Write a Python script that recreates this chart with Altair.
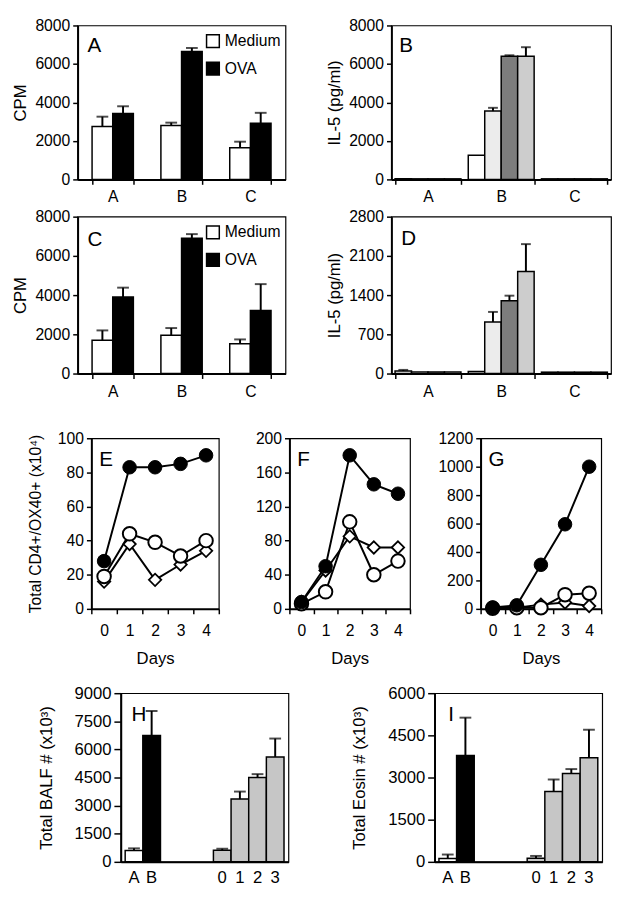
import altair as alt
import pandas as pd

FONT = "Liberation Sans"

# ---------------- Panels A and C : proliferation (CPM) ----------------
groups = ["A", "B", "C"]
stims = ["Medium", "OVA"]
stim_fills = ["white", "black"]
cpm_ticks = [0, 2000, 4000, 6000, 8000]

a_medium = [2750, 2800, 1650]
a_medium_top = [3260, 2950, 1960]
a_ova = [3420, 6650, 2920]
a_ova_top = [3800, 6830, 3460]

c_medium = [1700, 1950, 1520]
c_medium_top = [2200, 2320, 1740]
c_ova = [3900, 6900, 3220]
c_ova_top = [4380, 7110, 4560]

# ---------------- Panels B and D : IL-5 ----------------
il5_series = ["s1", "s2", "s3", "s4"]
il5_fills = ["white", "#ececec", "#7d7d7d", "#cdcdcd"]
b_ticks = [0, 2000, 4000, 6000, 8000]
b_group_A = [30, 30, 30, 30]
b_group_B = [1250, 3550, 6400, 6400]
b_group_C = [30, 30, 30, 30]
b_group_B_top = [1250, 3720, 6450, 6870]

d_ticks = [0, 700, 1400, 2100, 2800]
d_group_A = [45, 30, 30, 30]
d_group_A_top = [65, 30, 30, 30]
d_group_B = [35, 920, 1300, 1820]
d_group_B_top = [35, 1100, 1390, 2310]
d_group_C = [25, 25, 25, 25]

# ---------------- Panels E, F, G : CD4+/OX40+ time course ----------------
days = ["0", "1", "2", "3", "4"]
e_filled = [28, 83, 83, 85, 90]
e_open = [19, 44, 39, 31, 40]
e_diamond = [16, 38, 17, 26, 34]
e_ticks = [0, 20, 40, 60, 80, 100]

f_filled = [8, 50, 180, 146, 135]
f_open = [6, 20, 102, 40, 56]
f_diamond = [8, 45, 85, 72, 72]
f_ticks = [0, 40, 80, 120, 160, 200]

g_filled = [10, 25, 310, 595, 1000]
g_open = [5, 8, 8, 100, 110]
g_diamond = [5, 8, 30, 45, 20]
g_ticks = [0, 200, 400, 600, 800, 1000, 1200]

# ---------------- Panels H and I : BALF ----------------
hi_cats = ["A", "B", "0", "1", "2", "3"]
hi_domain = ["A", "B", " ", "  ", "   ", "0", "1", "2", "3"]
hi_fills = ["white", "black", "#c6c6c6", "#c6c6c6", "#c6c6c6", "#c6c6c6"]
h_vals = [600, 6750, 620, 3350, 4500, 5600]
h_top = [720, 8050, 700, 3750, 4680, 6580]
h_ticks = [0, 1500, 3000, 4500, 6000, 7500, 9000]
i_vals = [120, 3780, 130, 2500, 3140, 3700]
i_top = [260, 5130, 210, 2930, 3300, 4700]
i_ticks = [0, 1500, 3000, 4500, 6000]

spacer_df = pd.DataFrame({"s": [0]})


def spacer(w, h):
    return (
        alt.Chart(spacer_df)
        .mark_rect(opacity=0)
        .encode(x=alt.value(0), x2=alt.value(w), y=alt.value(0), y2=alt.value(h))
        .properties(width=w, height=h, view=alt.ViewBackground(stroke="transparent"))
    )


def letter(txt, dx, dy):
    return (
        alt.Chart(pd.DataFrame({"t": [txt]}))
        .mark_text(align="left", baseline="middle", fontSize=21, font=FONT, color="black")
        .encode(text="t:N", x=alt.value(dx), y=alt.value(dy))
    )


def y_axis(values, title, label_size, title_size, extent, title_pad, tick=5):
    kw = dict(values=values, format="d", title=title, labelFontSize=label_size,
              titleFontSize=title_size, tickSize=tick, labelPadding=3, grid=False)
    if title is not None:
        kw.update(minExtent=extent, maxExtent=extent, titlePadding=title_pad)
    return alt.Axis(**kw)


x_axis_groups = alt.Axis(
    title=None, tickBand="extent", labelAngle=0, labelFontSize=16,
    tickSize=5, labelPadding=5,
)


def grouped_panel(df, sub_field, sub_domain, fill_range, y_max, y_ticks, y_title,
                  letter_txt, lx, ly, width, height, pad_inner, pad_outer, cap,
                  legend=None):
    n = len(sub_domain)
    step = width / (len(groups) - pad_inner + 2 * pad_outer)
    bw = step * (1 - pad_inner) / n
    x = alt.X("group:N", scale=alt.Scale(domain=groups, paddingInner=pad_inner,
                                         paddingOuter=pad_outer), axis=x_axis_groups)
    ax = y_axis(y_ticks, y_title, 16, 17, 44, 5)
    sc = alt.Scale(domain=[0, y_max], nice=False)
    fill = alt.Fill(f"{sub_field}:N", scale=alt.Scale(domain=sub_domain, range=fill_range),
                    legend=legend)
    layers = []
    for k, s in enumerate(sub_domain):
        off = (k - (n - 1) / 2) * bw
        sub = alt.Chart(df).transform_filter(f"datum.{sub_field} == '{s}'")
        layers.append(sub.mark_bar(stroke="black", strokeWidth=1.5, width=bw, xOffset=off)
                      .encode(x=x, y=alt.Y("val:Q", scale=sc, axis=ax), fill=fill))
    for k, s in enumerate(sub_domain):
        off = (k - (n - 1) / 2) * bw
        sub = alt.Chart(df).transform_filter(
            f"datum.{sub_field} == '{s}' && datum.top > datum.val")
        layers.append(sub.mark_rule(color="black", strokeWidth=2, xOffset=off)
                      .encode(x=x, y=alt.Y("val:Q", scale=sc, axis=ax), y2="top:Q"))
        layers.append(sub.mark_tick(color="black", thickness=2, size=cap, xOffset=off)
                      .encode(x=x, y=alt.Y("top:Q", scale=sc, axis=ax)))
    layers.append(letter(letter_txt, lx, ly))
    return alt.layer(*layers).properties(width=width, height=height)


def cpm_frame(med, med_top, ova, ova_top):
    rows = []
    for g, m, mt, o, ot in zip(groups, med, med_top, ova, ova_top):
        rows.append({"group": g, "stim": "Medium", "val": m, "top": mt})
        rows.append({"group": g, "stim": "OVA", "val": o, "top": ot})
    return pd.DataFrame(rows)


def il5_frame(vals_by_group, tops_by_group):
    rows = []
    for g, vals, tops in zip(groups, vals_by_group, tops_by_group):
        for s, v, t in zip(il5_series, vals, tops):
            rows.append({"group": g, "series": s, "val": v, "top": t})
    return pd.DataFrame(rows)


legend_spec = alt.Legend(
    title=None, orient="none", legendX=130, legendY=8, symbolType="square",
    symbolSize=169, symbolStrokeColor="black", symbolStrokeWidth=1.5,
    labelFontSize=16, labelFont=FONT, labelColor="black", rowPadding=8,
    padding=0, labelOffset=4,
)

H1 = 157
H2 = 160
W_AC = 212
W_BD = 224
panel_A = grouped_panel(cpm_frame(a_medium, a_medium_top, a_ova, a_ova_top), "stim", stims,
                        stim_fills, 8000, cpm_ticks, "CPM", "A", 10, 21, W_AC, H1,
                        0.4, 0.21, 12, legend_spec)
panel_C = grouped_panel(cpm_frame(c_medium, c_medium_top, c_ova, c_ova_top), "stim", stims,
                        stim_fills, 8000, cpm_ticks, "CPM", "C", 10, 24, W_AC, H2,
                        0.4, 0.21, 12, legend_spec)
panel_B = grouped_panel(il5_frame([b_group_A, b_group_B, b_group_C],
                                  [b_group_A, b_group_B_top, b_group_C]),
                        "series", il5_series, il5_fills, 8000, b_ticks, "IL-5 (pg/ml)",
                        "B", 8, 21, W_BD, H1, 0.1, 0.05, 10)
panel_D = grouped_panel(il5_frame([d_group_A, d_group_B, d_group_C],
                                  [d_group_A_top, d_group_B_top, d_group_C]),
                        "series", il5_series, il5_fills, 2800, d_ticks, "IL-5 (pg/ml)",
                        "D", 10, 23, W_BD, H2, 0.1, 0.05, 10)

H3 = 174


def line_panel(filled, opened, diamond, y_max, y_ticks, y_title, letter_txt, width):
    rows = []
    for series, vals in (("diamond", diamond), ("open", opened), ("filled", filled)):
        for d, v in zip(days, vals):
            rows.append({"day": d, "val": v, "series": series})
    df = pd.DataFrame(rows)
    x = alt.X("day:N", scale=alt.Scale(type="band", domain=days, paddingInner=0, paddingOuter=0),
              axis=alt.Axis(title="Days", tickBand="extent", labelAngle=0, labelFontSize=16,
                            labelPadding=9, tickSize=5, titleFontSize=17, titlePadding=13))
    y = alt.Y("val:Q", scale=alt.Scale(domain=[0, y_max], nice=False),
              axis=y_axis(y_ticks, y_title, 16, 16, 44, 5))
    base = alt.Chart(df).encode(x=x, y=y)
    line = base.mark_line(color="black", strokeWidth=2).encode(detail="series:N")
    dia = base.transform_filter("datum.series == 'diamond'").mark_point(
        shape="diamond", filled=True, fill="white", stroke="black", strokeWidth=1.8,
        size=160, opacity=1)
    opn = base.transform_filter("datum.series == 'open'").mark_point(
        shape="circle", filled=True, fill="white", stroke="black", strokeWidth=2,
        size=190, opacity=1)
    fil = base.transform_filter("datum.series == 'filled'").mark_point(
        shape="circle", filled=True, fill="black", stroke="black", strokeWidth=1,
        size=190, opacity=1)
    return alt.layer(line, dia, opn, fil, letter(letter_txt, 8, 22)).properties(
        width=width, height=H3)


panel_E = line_panel(e_filled, e_open, e_diamond, 100, e_ticks,
                     "Total CD4+/OX40+ (x10⁴)", "E", 130)
panel_F = line_panel(f_filled, f_open, f_diamond, 200, f_ticks, None, "F", 123)
panel_G = line_panel(g_filled, g_open, g_diamond, 1200, g_ticks, None, "G", 123)

H4 = 172


def balf_panel(vals, tops, y_max, y_ticks, y_title, letter_txt, lx, width):
    df = pd.DataFrame({"cat": hi_cats, "val": vals, "top": tops})
    x = alt.X("cat:N", scale=alt.Scale(domain=hi_domain, paddingInner=0, paddingOuter=0.25),
              axis=alt.Axis(title=None, labelAngle=0, labelFontSize=17, ticks=False,
                            tickSize=0, labelPadding=8))
    ax = y_axis(y_ticks, y_title, 17, 17, 58, 9, tick=7)
    sc = alt.Scale(domain=[0, y_max], nice=False)
    bars = alt.Chart(df).mark_bar(stroke="black", strokeWidth=1.5).encode(
        x=x, y=alt.Y("val:Q", scale=sc, axis=ax),
        fill=alt.Fill("cat:N", scale=alt.Scale(domain=hi_cats, range=hi_fills), legend=None))
    err = alt.Chart(df).transform_filter("datum.top > datum.val")
    rule = err.mark_rule(color="black", strokeWidth=2).encode(
        x=x, y=alt.Y("val:Q", scale=sc, axis=ax), y2="top:Q")
    capm = err.mark_tick(color="black", thickness=2, size=12).encode(
        x=x, y=alt.Y("top:Q", scale=sc, axis=ax))
    return alt.layer(bars, rule, capm, letter(letter_txt, lx, 22)).properties(
        width=width, height=H4)


panel_H = balf_panel(h_vals, h_top, 9000, h_ticks, "Total BALF # (x10³)", "H", 11, 171)
panel_I = balf_panel(i_vals, i_top, 6000, i_ticks, "Total Eosin # (x10³)", "I", 14, 171)

row1 = alt.hconcat(spacer(1, 10), panel_A, spacer(37, 10), panel_B,
                   spacing=0).resolve_scale(fill="independent")
row2 = alt.hconcat(spacer(1, 10), panel_C, spacer(37, 10), panel_D,
                   spacing=0).resolve_scale(fill="independent")
row3 = alt.hconcat(spacer(17, 10), panel_E, spacer(32, 10), panel_F, spacer(23, 10), panel_G,
                   spacing=0).resolve_scale(fill="independent")
row4 = alt.hconcat(spacer(27, 10), panel_H, spacer(60, 10), panel_I,
                   spacing=0).resolve_scale(fill="independent")

chart = (
    alt.vconcat(row1, row2, spacer(1, 24), row3, spacer(1, 10), row4, spacing=2)
    .resolve_scale(fill="independent")
    .properties(padding=0)
    .configure(font=FONT)
    .configure_view(stroke="black", strokeWidth=1.2)
    .configure_axis(grid=False, domainColor="black", domainWidth=2, tickColor="black",
                    tickWidth=1.5, labelColor="black", titleColor="black", labelFont=FONT,
                    titleFont=FONT, titleFontWeight="normal")
)

chart.save("out.html", embed_options={"renderer": "svg", "actions": False})
